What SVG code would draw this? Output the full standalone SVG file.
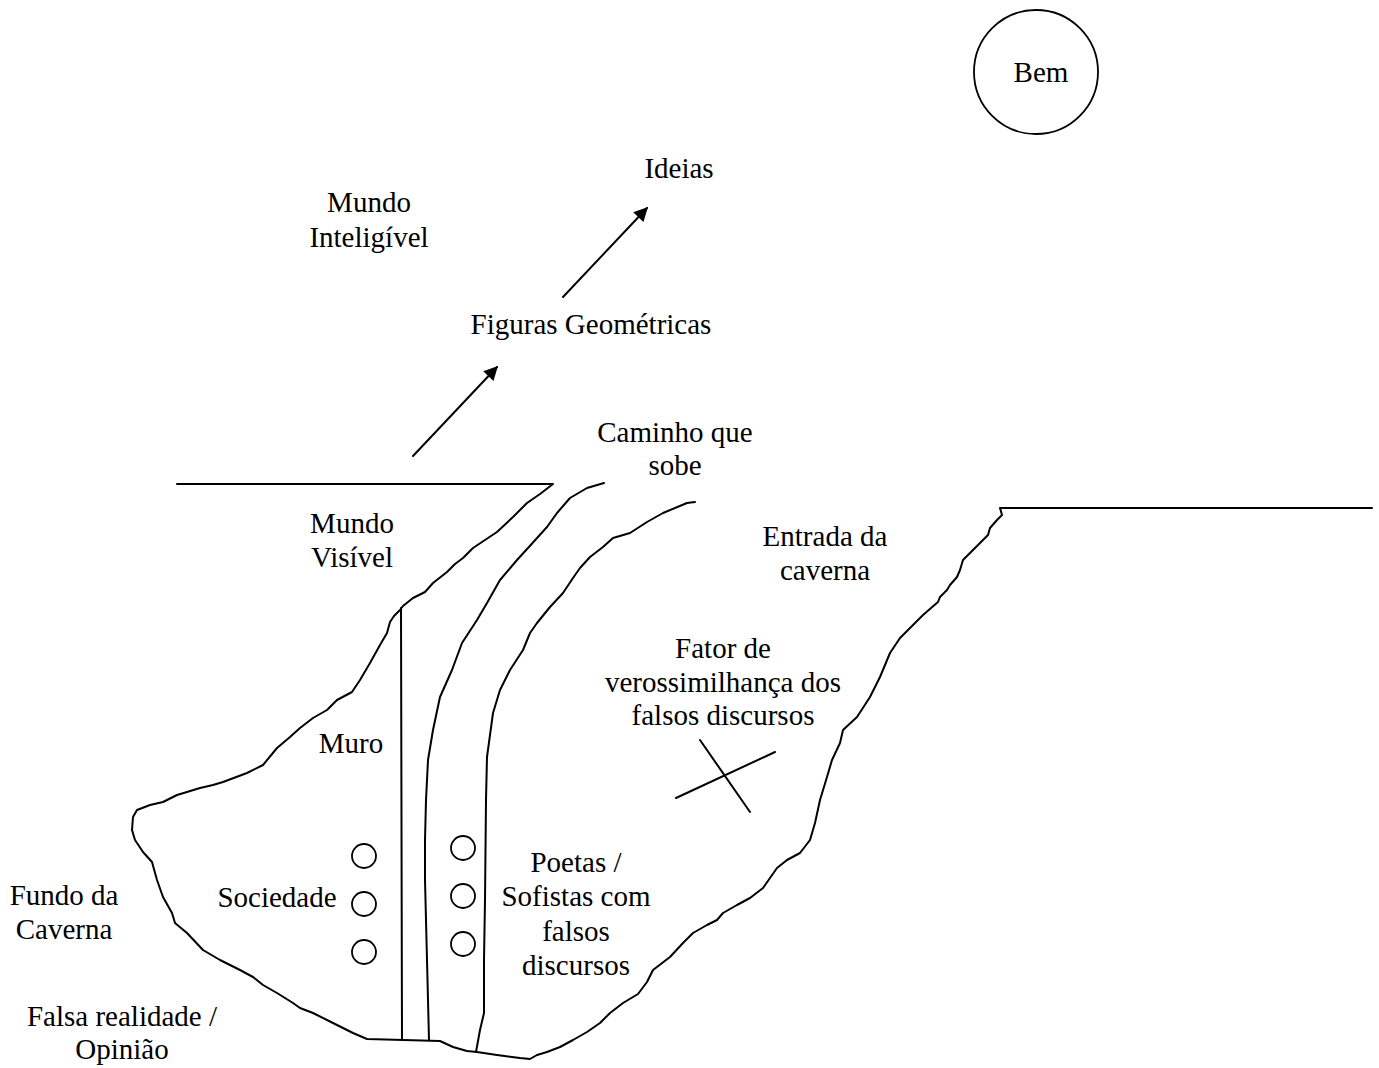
<svg xmlns="http://www.w3.org/2000/svg" width="1379" height="1068" viewBox="0 0 1379 1068">
<defs>
<style>
.t{font-family:"Liberation Serif","Times New Roman",serif;font-size:29px;fill:#000;text-anchor:middle}
.ln{fill:none;stroke:#000;stroke-width:2;stroke-linejoin:round;stroke-linecap:round}
.c{fill:none;stroke:#000;stroke-width:1.8}
</style>
<marker id="ah" viewBox="0 0 10 10" refX="9" refY="5" markerWidth="16" markerHeight="14" markerUnits="userSpaceOnUse" orient="auto">
<path d="M0,0 L10,5 L0,10 z" fill="#000"/>
</marker>
</defs>
<rect width="1379" height="1068" fill="#fff"/>
<g id="cave">
<path class="ln" d="M177,484 L553,484 L540,494 527,503 513,517 497,532 485,540 473,548 463,558 455,564 447,572 433,583 425,592 413,598 403,606 400,610 394,616 390,622 387,633 380,645 370,663 360,680 352,692 337,700 327,710 313,718 300,728 290,737 277,748 263,765 247,773 223,782 213,785 200,788 187,792 177,795 163,802 150,805 137,810 133,817 132,830 135,840 143,852 152,862 157,880 163,897 172,913 175,923 187,933 203,950 220,960 240,970 253,977 263,985 277,993 293,1003 300,1008 313,1013 333,1023 353,1033 367,1039 L440,1041 453,1047 467,1051 477,1052 497,1055 520,1058 530,1059 537,1055 547,1052 560,1047 573,1040 587,1032 600,1023 610,1013 623,1003 638,994 647,982 653,970 670,957 683,943 693,933 707,925 717,920 723,913 737,905 750,898 763,888 770,878 777,868 787,860 800,853 810,840 815,823 820,800 827,777 832,760 840,743 843,730 857,717 870,697 880,677 890,653 900,638 923,615 938,602 940,597 947,590 950,585 957,577 960,570 963,560 978,545 988,535 990,528 997,520 1002,515 1000,508 L1372,508"/>
<path class="ln" d="M401,608 L402,1040"/>
<path class="ln" d="M604,483 L587,488 570,498 557,513 547,527 528,548 517,560 500,580 487,603 477,620 462,643 452,670 440,697 433,730 428,760 426,800 425,840 425,880 426,920 427,960 428,1000 429,1040"/>
<path class="ln" d="M695,502 L687,503 663,513 647,522 630,533 613,538 603,547 590,557 580,568 573,578 563,593 550,607 537,623 530,633 523,650 510,670 500,690 493,713 487,757 486,800 485,900 484,960 484,1013 480,1030 476,1052"/>
</g>
<g id="bem">
<circle class="c" cx="1036" cy="72" r="62"/>
<text class="t" x="1041" y="82">Bem</text>
</g>
<g id="people">
<circle class="c" cx="364" cy="856" r="12"/>
<circle class="c" cx="364" cy="904" r="12"/>
<circle class="c" cx="364" cy="952" r="12"/>
<circle class="c" cx="463" cy="848" r="12"/>
<circle class="c" cx="463" cy="896" r="12"/>
<circle class="c" cx="463" cy="944" r="12"/>
</g>
<g id="xmark">
<path class="ln" d="M700,740 L750,812 M676,798 L775,752"/>
</g>
<g id="connectors">
<line class="ln" x1="413" y1="456" x2="497" y2="367" marker-end="url(#ah)"/>
<line class="ln" x1="563" y1="297" x2="647" y2="208" marker-end="url(#ah)"/>
</g>
<g id="labels">
<text class="t" x="679" y="178">Ideias</text>
<text class="t" x="369" y="212">Mundo</text>
<text class="t" x="369" y="247">Inteligível</text>
<text class="t" x="591" y="334">Figuras Geométricas</text>
<text class="t" x="675" y="442">Caminho que</text>
<text class="t" x="675" y="475">sobe</text>
<text class="t" x="352" y="533">Mundo</text>
<text class="t" x="352" y="567">Visível</text>
<text class="t" x="825" y="546">Entrada da</text>
<text class="t" x="825" y="580">caverna</text>
<text class="t" x="723" y="658">Fator de</text>
<text class="t" x="723" y="692">verossimilhança dos</text>
<text class="t" x="723" y="725">falsos discursos</text>
<text class="t" x="351" y="753">Muro</text>
<text class="t" x="576" y="872">Poetas /</text>
<text class="t" x="576" y="906">Sofistas com</text>
<text class="t" x="576" y="941">falsos</text>
<text class="t" x="576" y="975">discursos</text>
<text class="t" x="277" y="907">Sociedade</text>
<text class="t" x="64" y="905">Fundo da</text>
<text class="t" x="64" y="939">Caverna</text>
<text class="t" x="122" y="1026">Falsa realidade /</text>
<text class="t" x="122" y="1059">Opinião</text>
</g>
</svg>
